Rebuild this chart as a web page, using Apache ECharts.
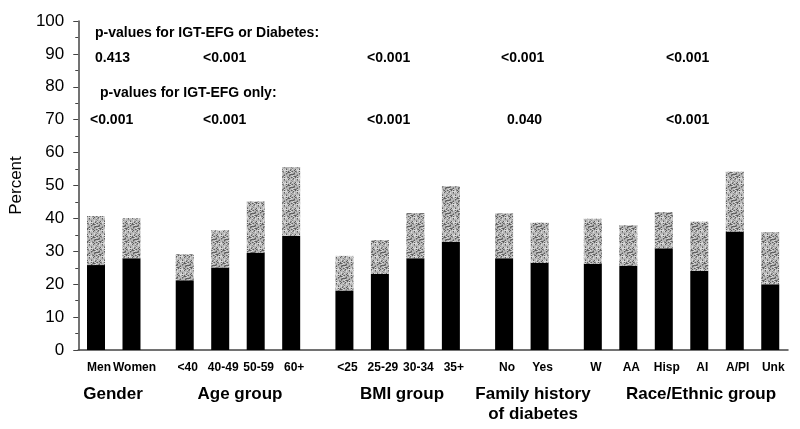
<!DOCTYPE html>
<html>
<head>
<meta charset="utf-8">
<script src="https://cdn.jsdelivr.net/npm/echarts@6/dist/echarts.min.js"></script>
<style>
  html, body { margin: 0; padding: 0; background: #fff; }
  #chart { width: 800px; height: 429px; }
</style>
</head>
<body>
<div id="chart"></div>
<script>
// ---- Data ----
const categories = ['Men', 'Women', '<40', '40-49', '50-59', '60+', '<25', '25-29', '30-34', '35+', 'No', 'Yes', 'W', 'AA', 'Hisp', 'AI', 'A/PI', 'Unk'];
const groupSizes = [2, 4, 4, 2, 6];
const groupLabels = ['Gender', 'Age group', 'BMI group', 'Family history\nof diabetes', 'Race/Ethnic group'];
const igtEfg   = [25.8, 27.9, 21.2, 25.1, 29.5, 34.7, 18.1, 23.1, 27.9, 32.9, 27.9, 26.5, 26.2, 25.6, 30.9, 24.1, 36.0, 20.0];
const diabetes = [14.9, 12.2, 7.9, 11.3, 15.6, 20.9, 10.5, 10.3, 13.7, 16.9, 13.6, 12.2, 13.7, 12.3, 11.0, 14.9, 18.2, 15.9];
const pTitleAny = 'p-values for IGT-EFG or Diabetes:';
const pTitleIgt = 'p-values for IGT-EFG only:';
const pValuesAny = ['0.413', '<0.001', '<0.001', '<0.001', '<0.001'];
const pValuesIgt = ['<0.001', '<0.001', '<0.001', '0.040', '<0.001'];
const yTicks = { min: 0, max: 100, interval: 10 };

// ---- Build padded category axis (spacer slots between bars/groups) ----
const axisCats = [''];
const igtData = [null];
const diaData = [null];
let k = 0;
groupSizes.forEach((n, g) => {
  if (g > 0) { axisCats.push('', ''); igtData.push(null, null); diaData.push(null, null); }
  for (let i = 0; i < n; i++) {
    if (i > 0) { axisCats.push(''); igtData.push(null); diaData.push(null); }
    axisCats.push(categories[k]); igtData.push(igtEfg[k]); diaData.push(diabetes[k]);
    k++;
  }
});
axisCats.push(''); igtData.push(null); diaData.push(null);

// ---- Stipple texture (deterministic, non-random hash) for the grey segments ----
const T = 13;
const tex = document.createElement('canvas');
tex.width = T; tex.height = T;
const tctx = tex.getContext('2d');
tctx.fillStyle = '#b8b8b8';
tctx.fillRect(0, 0, T, T);
for (let yy = 0; yy < T; yy++) {
  for (let xx = 0; xx < T; xx++) {
    const h = (xx * xx * 7 + yy * yy * 3 + xx * yy * 5 + xx * 2 + yy) % T;
    if (h < 2) { tctx.fillStyle = '#5e5e5e'; tctx.fillRect(xx, yy, 1, 1); }
    else if (h < 4) { tctx.fillStyle = '#8a8a8a'; tctx.fillRect(xx, yy, 1, 1); }
    else if (h < 6) { tctx.fillStyle = '#d8d8d8'; tctx.fillRect(xx, yy, 1, 1); }
  }
}

const FONT = '"Liberation Sans", Arial, sans-serif';
const chart = echarts.init(document.getElementById('chart'), null, { renderer: 'canvas' });

const txt = (x, y, text, size) => ({
  type: 'text', x: x, y: y,
  style: { text: text, fontFamily: FONT, fontSize: size, fontWeight: 'bold', fill: '#000', textVerticalAlign: 'middle', textAlign: 'left' }
});

const pxAny = [95, 203, 367, 501, 666];
const pxIgt = [90, 203, 367, 507, 666];
const groupCx = [113, 240, 402, 533, 701];

const graphics = [
  txt(95, 33, pTitleAny, 14),
  txt(100, 93, pTitleIgt, 14)
];
pValuesAny.forEach((v, i) => graphics.push(txt(pxAny[i], 58, v, 14)));
pValuesIgt.forEach((v, i) => graphics.push(txt(pxIgt[i], 120, v, 14)));
groupLabels.forEach((v, i) => graphics.push({
  type: 'text', x: groupCx[i], y: 384,
  style: { text: v, fontFamily: FONT, fontSize: 17, fontWeight: 'bold', fill: '#000', textAlign: 'center', textVerticalAlign: 'top', lineHeight: 20 }
}));

chart.setOption({
  animation: false,
  backgroundColor: '#fff',
  grid: { left: 72, right: 12, top: 21, bottom: 79, containLabel: false },
  xAxis: {
    type: 'category',
    data: axisCats,
    boundaryGap: false,
    axisLine: { lineStyle: { color: '#444', width: 1.5 } },
    axisTick: { show: false },
    axisLabel: { interval: 0, color: '#000', fontFamily: FONT, fontSize: 12, fontWeight: 'bold', margin: 12, padding: [0, 0, 0, 6] },
    splitLine: { show: false }
  },
  yAxis: {
    type: 'value',
    min: yTicks.min, max: yTicks.max, interval: yTicks.interval,
    name: 'Percent',
    nameLocation: 'middle',
    nameGap: 44,
    nameRotate: 90,
    nameTextStyle: { color: '#000', fontFamily: FONT, fontSize: 17 },
    axisLine: { show: true, lineStyle: { color: '#444', width: 1.5 } },
    axisTick: { show: true, inside: false, length: 5, lineStyle: { color: '#444' } },
    minorTick: { show: true, splitNumber: 2, length: 3, lineStyle: { color: '#444' } },
    axisLabel: { color: '#000', fontFamily: FONT, fontSize: 17, margin: 14 },
    splitLine: { show: false },
    minorSplitLine: { show: false }
  },
  series: [
    { name: 'IGT-EFG', type: 'bar', stack: 'total', data: igtData, barWidth: 18, itemStyle: { color: '#000' } },
    { name: 'Diabetes', type: 'bar', stack: 'total', data: diaData, barWidth: 18, itemStyle: { color: { image: tex, repeat: 'repeat' } } }
  ],
  graphic: graphics
});
</script>
</body>
</html>
